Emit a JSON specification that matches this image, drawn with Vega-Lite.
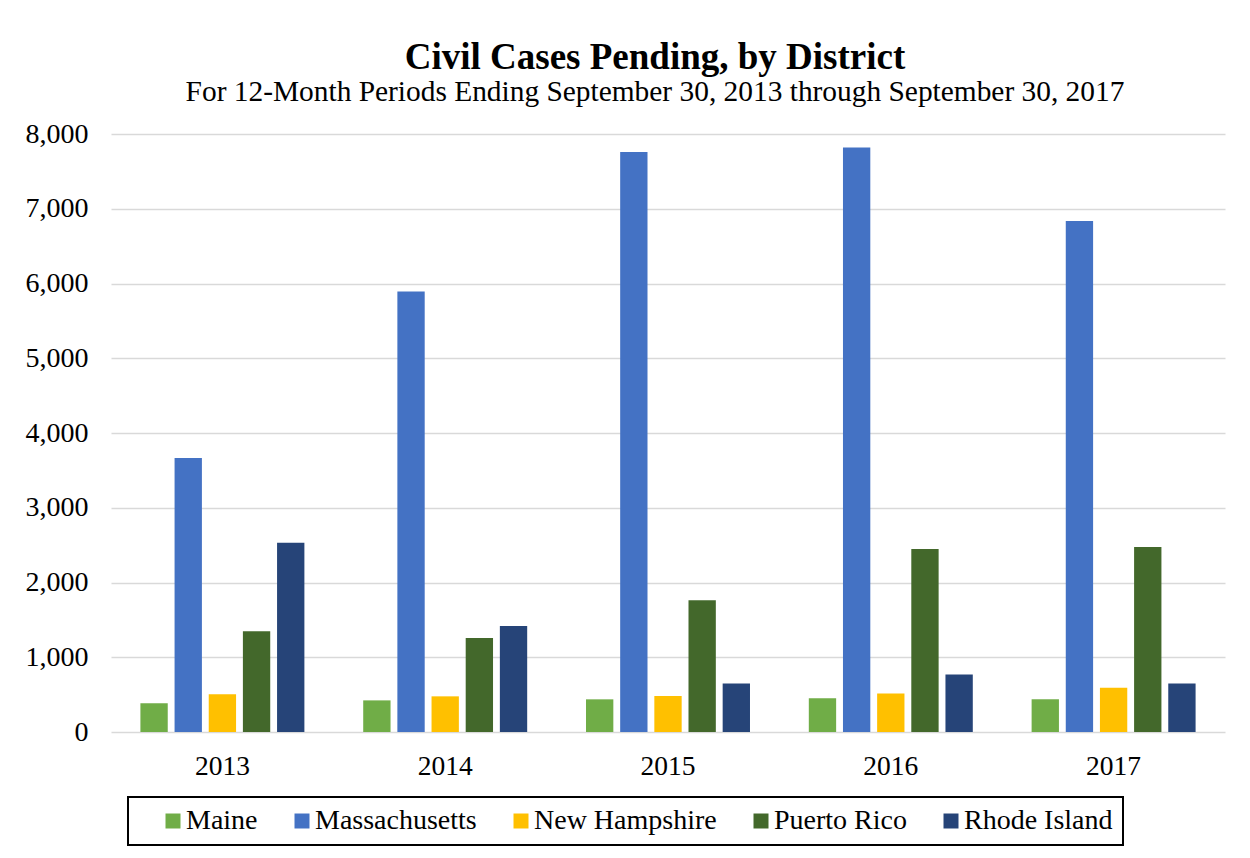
{
  "$schema": "https://vega.github.io/schema/vega-lite/v6.json",
  "width": 1114,
  "height": 598,
  "autosize": {"type": "none"},
  "padding": {"left": 111, "top": 134, "right": 25, "bottom": 126},
  "background": "white",
  "config": {
    "font": "Liberation Serif",
    "view": {"stroke": null},
    "legend": {"strokeWidth": 2}
  },
  "title": {
    "text": "Civil Cases Pending, by District",
    "subtitle": "For 12-Month Periods Ending September 30, 2013 through September 30, 2017",
    "font": "Liberation Serif",
    "subtitleFont": "Liberation Serif",
    "fontSize": 37,
    "fontWeight": "bold",
    "subtitleFontSize": 29.4,
    "subtitlePadding": 1,
    "color": "black",
    "subtitleColor": "black",
    "anchor": "middle",
    "frame": "group",
    "dx": -13,
    "offset": 13
  },
  "data": {
    "values": [
      {"year": "2013", "district": "Maine", "cases": 383},
      {"year": "2013", "district": "Massachusetts", "cases": 3664},
      {"year": "2013", "district": "New Hampshire", "cases": 505},
      {"year": "2013", "district": "Puerto Rico", "cases": 1347},
      {"year": "2013", "district": "Rhode Island", "cases": 2532},
      {"year": "2014", "district": "Maine", "cases": 423},
      {"year": "2014", "district": "Massachusetts", "cases": 5893},
      {"year": "2014", "district": "New Hampshire", "cases": 477},
      {"year": "2014", "district": "Puerto Rico", "cases": 1257},
      {"year": "2014", "district": "Rhode Island", "cases": 1419},
      {"year": "2015", "district": "Maine", "cases": 437},
      {"year": "2015", "district": "Massachusetts", "cases": 7758},
      {"year": "2015", "district": "New Hampshire", "cases": 482},
      {"year": "2015", "district": "Puerto Rico", "cases": 1763},
      {"year": "2015", "district": "Rhode Island", "cases": 649},
      {"year": "2016", "district": "Maine", "cases": 452},
      {"year": "2016", "district": "Massachusetts", "cases": 7821},
      {"year": "2016", "district": "New Hampshire", "cases": 515},
      {"year": "2016", "district": "Puerto Rico", "cases": 2447},
      {"year": "2016", "district": "Rhode Island", "cases": 770},
      {"year": "2017", "district": "Maine", "cases": 438},
      {"year": "2017", "district": "Massachusetts", "cases": 6835},
      {"year": "2017", "district": "New Hampshire", "cases": 591},
      {"year": "2017", "district": "Puerto Rico", "cases": 2474},
      {"year": "2017", "district": "Rhode Island", "cases": 649}
    ]
  },
  "mark": {"type": "bar"},
  "encoding": {
    "x": {
      "field": "year",
      "type": "ordinal",
      "scale": {"paddingInner": 0.264, "paddingOuter": 0.132},
      "axis": {
        "title": null,
        "grid": false,
        "domain": false,
        "ticks": false,
        "tickSize": 0,
        "labelAngle": 0,
        "labelFont": "Liberation Serif",
        "labelFontSize": 27.5,
        "labelColor": "black",
        "labelBaseline": "alphabetic",
        "labelPadding": 42
      }
    },
    "xOffset": {
      "field": "district",
      "type": "nominal",
      "scale": {"paddingInner": 0.2, "paddingOuter": 0}
    },
    "y": {
      "field": "cases",
      "type": "quantitative",
      "scale": {"domain": [0, 8000], "nice": false},
      "axis": {
        "title": null,
        "values": [0, 1000, 2000, 3000, 4000, 5000, 6000, 7000, 8000],
        "format": ",d",
        "domain": false,
        "ticks": false,
        "tickSize": 0,
        "grid": true,
        "gridColor": "#d9d9d9",
        "gridWidth": 1.5,
        "labelFont": "Liberation Serif",
        "labelFontSize": 28,
        "labelColor": "black",
        "labelPadding": 23
      }
    },
    "color": {
      "field": "district",
      "type": "nominal",
      "scale": {
        "domain": ["Maine", "Massachusetts", "New Hampshire", "Puerto Rico", "Rhode Island"],
        "range": ["#70AD47", "#4472C4", "#FFC000", "#43682B", "#264478"]
      },
      "legend": {
        "title": " ",
        "titleOrient": "left",
        "titleFontSize": 27,
        "titlePadding": 21,
        "orient": "none",
        "legendX": 17,
        "legendY": 663,
        "direction": "horizontal",
        "columns": 5,
        "columnPadding": 30,
        "symbolType": "square",
        "symbolSize": 225,
        "symbolStrokeWidth": 0,
        "labelOffset": -1,
        "labelFont": "Liberation Serif",
        "labelFontSize": 28,
        "labelColor": "black",
        "labelLimit": 400,
        "labelExpr": "datum.label == 'Rhode Island' ? 'Rhode Island\u00a0\u00a0\u00a0' : datum.label",
        "padding": 10,
        "strokeColor": "black",
        "fillColor": "white"
      }
    }
  }
}
